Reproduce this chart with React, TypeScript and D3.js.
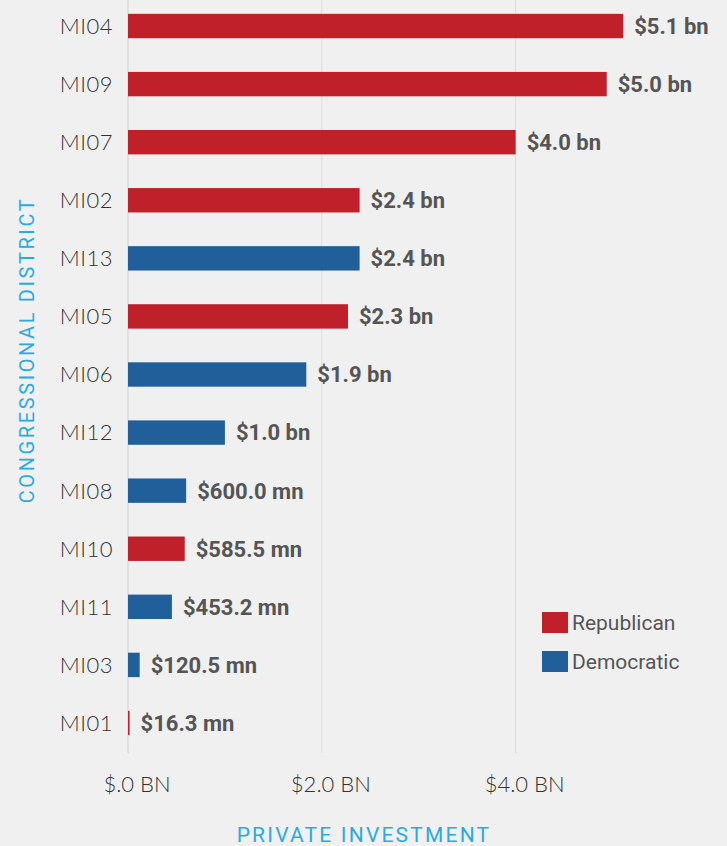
import React from "react";
import * as d3 from "d3";

const districts = ["MI04", "MI09", "MI07", "MI02", "MI13", "MI05", "MI06", "MI12", "MI08", "MI10", "MI11", "MI03", "MI01"];
const values = [5.11, 4.94, 4.0, 2.39, 2.39, 2.27, 1.84, 1.0, 0.6, 0.5855, 0.4532, 0.1205, 0.0163];
const parties = ["R", "R", "R", "R", "D", "R", "D", "D", "D", "R", "D", "D", "R"];
const valueLabels = ["$5.1 bn", "$5.0 bn", "$4.0 bn", "$2.4 bn", "$2.4 bn", "$2.3 bn", "$1.9 bn", "$1.0 bn", "$600.0 mn", "$585.5 mn", "$453.2 mn", "$120.5 mn", "$16.3 mn"];
const xTicks = [0, 2, 4];
const xTickLabels = ["$.0 BN", "$2.0 BN", "$4.0 BN"];
const legendItems = [{ key: "R", label: "Republican" }, { key: "D", label: "Democratic" }];

const W = 727;
const H = 846;
const colors: Record<string, string> = { R: "#c0202a", D: "#215f9a" };

export default function App() {
  const x = d3.scaleLinear().domain([0, 5.5]).range([128, 661]);
  const y = d3.scaleBand<string>().domain(districts).range([-3, 752]).paddingInner(0.58).paddingOuter(0.29);
  const bw = y.bandwidth();
  return (
    <svg width={W} height={H} style={{ position: "absolute", left: 0, top: 0, background: "#f0f0f0" }}>
      <rect x={0} y={0} width={W} height={H} fill="#f0f0f0" />
      {xTicks.map((t) => (
        <line key={t} x1={x(t)} x2={x(t)} y1={0} y2={753} stroke={t === 0 ? "#d4d4d4" : "#dedede"} strokeWidth={1} />
      ))}
      {districts.map((d, i) => (
        <g key={d}>
          <rect x={x(0)} y={y(d)!} width={Math.max(x(values[i]) - x(0), 1.5)} height={bw} fill={colors[parties[i]]} />
          <text x={113} y={y(d)! + bw / 2} dy="0.36em" textAnchor="end" fontFamily="Lato" fontWeight={300} fontSize={22} letterSpacing={0.5} fill="#333">{d}</text>
          <text x={x(values[i]) + 11} y={y(d)! + bw / 2} dy="0.36em" fontFamily="Roboto" fontWeight={700} fontSize={22} fill="#555">{valueLabels[i]}</text>
        </g>
      ))}
      {xTicks.map((t, i) => (
        <text key={"l" + t} x={x(t) + 9} y={792} textAnchor="middle" fontFamily="Lato" fontWeight={300} fontSize={22} fill="#333">{xTickLabels[i]}</text>
      ))}
      <text x={364} y={842} textAnchor="middle" fontFamily="Roboto" fontSize={21} letterSpacing={2.2} fill="#29abe2">PRIVATE INVESTMENT</text>
      <text transform="translate(34,350) rotate(-90)" textAnchor="middle" fontFamily="Roboto" fontSize={20} letterSpacing={2.6} fill="#29abe2">CONGRESSIONAL DISTRICT</text>
      {legendItems.map((l, i) => (
        <g key={l.key} transform={`translate(542,${612 + i * 39})`}>
          <rect x={0} y={0} width={26} height={21} fill={colors[l.key]} />
          <text x={30} y={10.5} dy="0.36em" fontFamily="Roboto" fontSize={21} fill="#555">{l.label}</text>
        </g>
      ))}
    </svg>
  );
}
